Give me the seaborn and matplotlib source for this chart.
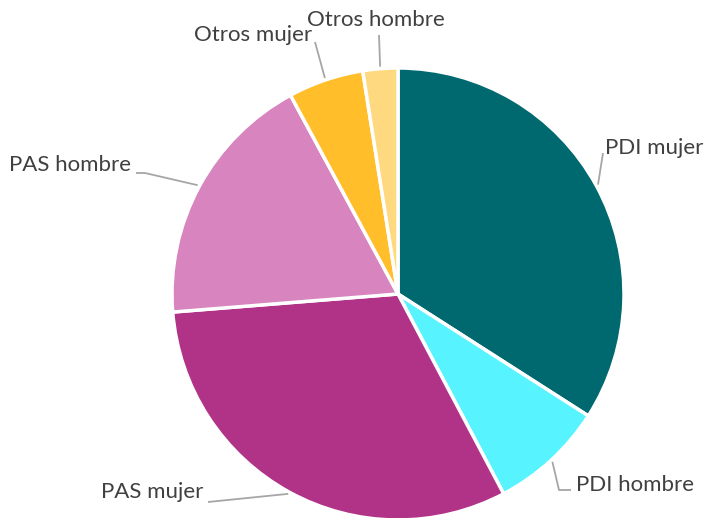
import numpy as np
import matplotlib
matplotlib.use("Agg")
import matplotlib.pyplot as plt
import seaborn as sns

labels = ["PDI mujer", "PDI hombre", "PAS mujer", "PAS hombre", "Otros mujer", "Otros hombre"]
values = [34.1, 8.2, 31.5, 18.4, 5.4, 2.5]
colors = ["#00686F", "#57F4FF", "#B03388", "#D884BE", "#FFBE2A", "#FFD97F"]

# label layout in pixel coords (x, y from top): elbow point, text point, alignment
elbows = [[(603, 153)], [(559, 490), (571, 490)], [(208, 502)], [(145, 173), (136, 173)],
          [(315, 42)], [(379, 35)]]
text_pos = [(605, 148), (576, 485), (203, 492), (131, 165), (312, 35), (376, 20)]
text_ha = ["left", "left", "right", "right", "right", "center"]

sns.set_theme(style="white")
plt.rcParams["font.family"] = ["Lato", "DejaVu Sans"]

W, H = 707, 518
fig = plt.figure(figsize=(W / 100, H / 100), dpi=100)
ax = fig.add_axes([0, 0, 1, 1])

cx, cy, r = 398, H - 294, 226
wedges, _ = ax.pie(values, colors=colors, startangle=90, counterclock=False,
                   center=(cx, cy), radius=r, frame=True,
                   wedgeprops=dict(edgecolor="white", linewidth=2.5))
ax.set_xlim(0, W)
ax.set_ylim(0, H)
ax.set_aspect("equal")
ax.axis("off")

for w, lab, elb, tp, ha in zip(wedges, labels, elbows, text_pos, text_ha):
    mid = np.deg2rad((w.theta1 + w.theta2) / 2)
    ax0 = cx + (r + 2) * np.cos(mid)
    ay0 = cy + (r + 2) * np.sin(mid)
    xs = [ax0] + [p[0] for p in elb]
    ys = [ay0] + [H - p[1] for p in elb]
    ax.plot(xs, ys, color="#A6A6A6", lw=1.3, solid_capstyle="butt")
    ax.text(tp[0], H - tp[1], lab, ha=ha, va="center", fontsize=16, color="#404040")

fig.savefig("out.png", dpi=100)
